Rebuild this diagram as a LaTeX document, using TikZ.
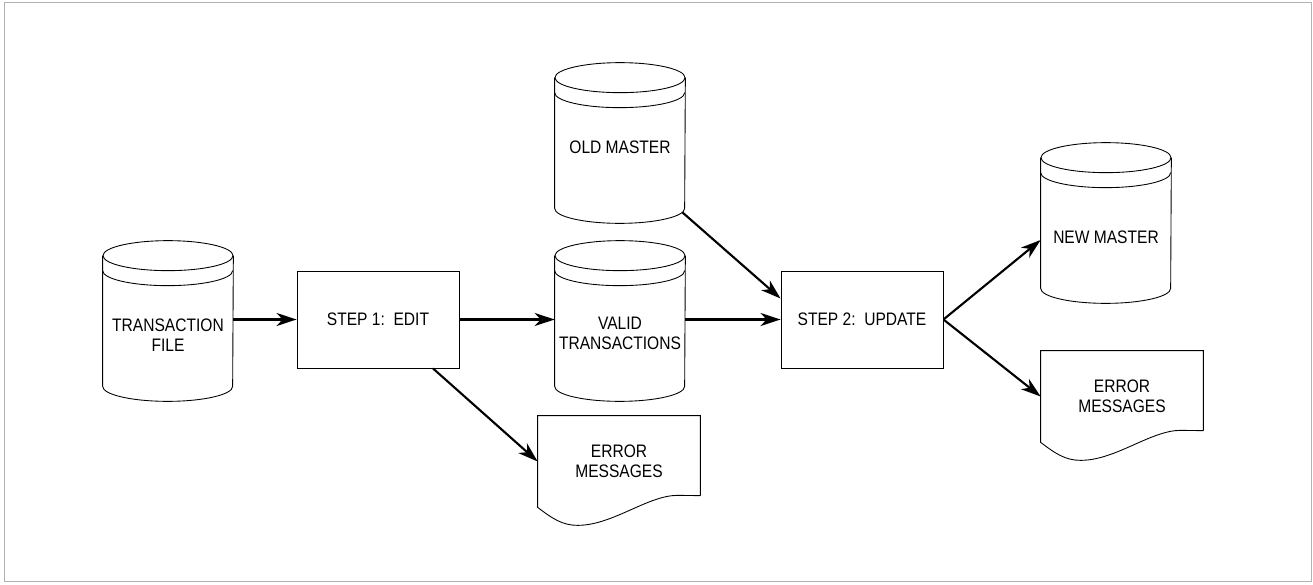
\documentclass[tikz,border=0pt]{standalone}
\usepackage{fontspec}
\setmainfont{Liberation Sans}[FakeStretch=0.86]
\usetikzlibrary{arrows.meta,calc}

\tikzset{
  outline/.style={line width=0.5pt},
  box/.style={draw, outline, minimum width=3.24cm, minimum height=1.94cm, inner sep=0pt},
  disk/.style={minimum width=2.6cm, minimum height=2.6cm, inner sep=0pt},
  doc/.style={minimum width=3.24cm, minimum height=1.82cm, inner sep=0pt, align=center},
  flow/.style={line width=1.2pt, -{Stealth[length=0.4cm,width=0.26cm,inset=0.12cm]}}
}

% Disque : nom, centre, decalage du texte, texte
\newcommand{\disque}[4]{%
  \node[disk] (#1) at (#2) {};
  \draw[outline] (#1.north) ellipse[x radius=1.3cm, y radius=0.3cm];
  \draw[outline] (#1.north west) -- (#1.south west)
    arc[start angle=180, end angle=360, x radius=1.3cm, y radius=0.3cm]
    -- (#1.north east);
  \draw[outline] ([yshift=-0.3cm]#1.north west)
    arc[start angle=180, end angle=360, x radius=1.3cm, y radius=0.3cm];
  \node[align=center] (#1-txt) at ([yshift=-#3]#1.center) {#4};
}

% Document : nom, centre, texte
\newcommand{\feuille}[3]{%
  \node[doc] (#1) at (#2) {#3};
  \draw[outline] ([yshift=-1.6cm]#1.north east) -- (#1.north east)
    -- (#1.north west) -- (#1.south west)
    .. controls +(0.3,-0.23) and +(-0.3,0) .. ++(0.8,-0.36)
    .. controls +(0.7,0) and +(-0.6,0) .. ++(2.0,0.6)
    -- ([yshift=-1.6cm]#1.north east);
}

\begin{document}
\begin{tikzpicture}[font=\fontsize{10.3}{11.3}\selectfont]

\useasboundingbox (0,0) rectangle (26.26,11.68);

% Cadre
\draw[gray!60, line width=0.3pt] (0.08,0.06) rectangle (26.22,11.64);

% Fichiers
\disque{trans}{3.36,5.26}{0.28cm}{TRANSACTION\\FILE}
\disque{old}{12.4,8.82}{0.08cm}{OLD MASTER}
\disque{valid}{12.4,5.26}{0.24cm}{VALID\\TRANSACTIONS}
\disque{new}{22.12,7.22}{0.28cm}{NEW MASTER}

% Traitements
\node[box] (step1) at (7.56,5.29) {STEP 1:~~EDIT};
\node[box] (step2) at (17.24,5.29) {STEP 2:~~UPDATE};

% Listes d'erreurs
\feuille{err1}{12.38,2.45}{ERROR\\MESSAGES}
\feuille{err2}{22.44,3.75}{ERROR\\MESSAGES}

% Flux
\draw[flow] (trans.east |- step1.west) -- (step1.west);
\draw[flow] (step1.east) -- (valid.west |- step1.east);
\draw[flow] ([xshift=1.1cm]step1.south) -- (err1.west);
\draw[flow] ([shift={(-0.06,-0.08)}]old.south east) -- ([yshift=0.42cm]step2.west);
\draw[flow] (valid.east |- step2.west) -- (step2.west);
\draw[flow] (step2.east) -- ([yshift=-0.34cm]new.west);
\draw[flow] (step2.east) -- (err2.west);

\end{tikzpicture}
\end{document}
